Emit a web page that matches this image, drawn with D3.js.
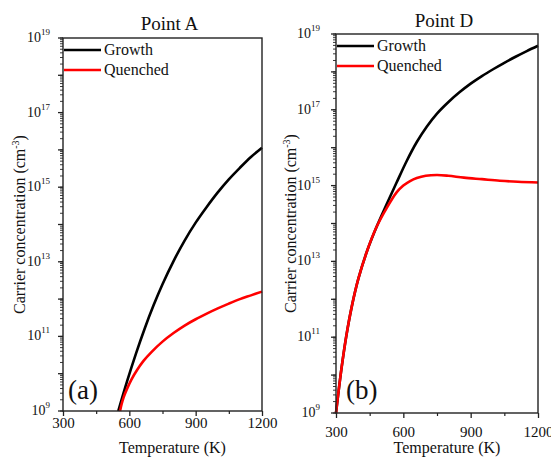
<!DOCTYPE html>
<html>
<head>
<meta charset="utf-8">
<script src="https://cdn.jsdelivr.net/npm/d3@7"></script>
<style>
  body { margin: 0; background: #fff; }
  svg text { font-family: "Liberation Serif", Tinos, "Times New Roman", Times, "DejaVu Serif", serif; }
</style>
</head>
<body>
<svg width="551" height="458"></svg>
<script>
// Point A curves: temperature (K) and log10 of carrier concentration (cm^-3)
const growthA_T = [550, 590, 630, 670, 710, 750, 800, 850, 900, 950, 1000, 1050, 1100, 1150, 1200];
const growthA_logN = [9.0, 9.80, 10.54, 11.22, 11.84, 12.40, 13.02, 13.57, 14.05, 14.47, 14.86, 15.21, 15.52, 15.81, 16.06];
const quenchA_T = [558, 565, 575, 590, 610, 635, 665, 700, 750, 800, 850, 900, 950, 1000, 1050, 1100, 1150, 1200];
const quenchA_logN = [9.0, 9.18, 9.38, 9.60, 9.85, 10.10, 10.35, 10.58, 10.86, 11.09, 11.29, 11.46, 11.61, 11.75, 11.88, 12.00, 12.10, 12.20];

// Point D curves
const growthD_T = [300, 310, 325, 345, 370, 400, 440, 480, 525, 570, 615, 660, 705, 750, 800, 850, 900, 950, 1000, 1050, 1100, 1150, 1200];
const growthD_logN = [9.0, 9.50, 10.20, 11.00, 11.80, 12.55, 13.30, 13.90, 14.50, 15.08, 15.65, 16.15, 16.56, 16.90, 17.20, 17.46, 17.69, 17.89, 18.07, 18.24, 18.40, 18.55, 18.69];
const quenchD_T = [300, 310, 325, 345, 370, 400, 440, 480, 525, 570, 600, 630, 660, 700, 750, 800, 870, 950, 1030, 1110, 1200];
const quenchD_logN = [9.0, 9.50, 10.20, 11.00, 11.80, 12.55, 13.30, 13.90, 14.40, 14.82, 15.00, 15.12, 15.20, 15.26, 15.28, 15.26, 15.21, 15.17, 15.13, 15.10, 15.08];

const xTicks = [300, 600, 900, 1200];
const xMinor = [450, 750, 1050];
const yExp = [9, 11, 13, 15, 17, 19];
const legendNames = ["Growth", "Quenched"];

const panels = [
  { title: "Point A", tag: "(a)", left: 63, right: 262, top: 38, bottom: 411, titleY: 30, labelGap: 13, ylabX: 25, tickPad: 1, tagX: 5, tagY: 12,
    series: [
      { T: growthA_T, L: growthA_logN, color: "#000" },
      { T: quenchA_T, L: quenchA_logN, color: "#f00" }
    ] },
  { title: "Point D", tag: "(b)", left: 336, right: 538, top: 34, bottom: 413, titleY: 27, labelGap: 16, ylabX: 296, tickPad: 8, tagX: 10, tagY: 14,
    series: [
      { T: growthD_T, L: growthD_logN, color: "#000" },
      { T: quenchD_T, L: quenchD_logN, color: "#f00" }
    ] }
];

const svg = d3.select("svg");

panels.forEach(p => {
  const x = d3.scaleLinear().domain([300, 1200]).range([p.left, p.right]);
  const y = d3.scaleLog().domain([1e9, 1e19]).range([p.bottom, p.top]);
  const g = svg.append("g");

  // curves
  const line = d3.line().x(d => x(d[0])).y(d => y(d[1])).curve(d3.curveCatmullRom.alpha(0.5));
  p.series.forEach(s => {
    g.append("path")
      .datum(s.T.map((t, i) => [t, Math.pow(10, s.L[i])]))
      .attr("fill", "none")
      .attr("stroke", s.color)
      .attr("stroke-width", 2.6)
      .attr("d", line);
  });

  // frame
  g.append("rect")
    .attr("x", p.left).attr("y", p.top)
    .attr("width", p.right - p.left).attr("height", p.bottom - p.top)
    .attr("fill", "none").attr("stroke", "#222").attr("stroke-width", 1.4);

  // x axis
  const xAxis = g.append("g").attr("transform", `translate(0,${p.bottom})`)
    .call(d3.axisBottom(x).tickValues(xTicks).tickSize(5).tickPadding(p.tickPad).tickFormat(d3.format("d")));
  xAxis.attr("font-family", null).attr("font-size", null);
  xAxis.select(".domain").remove();
  xAxis.selectAll("line").attr("stroke", "#222").attr("stroke-width", 1.3);
  xAxis.selectAll("text").attr("font-size", 15).attr("fill", "#111");
  g.append("g").attr("transform", `translate(0,${p.bottom})`)
    .call(d3.axisBottom(x).tickValues(xMinor).tickSize(3).tickFormat(""))
    .call(a => a.select(".domain").remove())
    .selectAll("line").attr("stroke", "#222").attr("stroke-width", 1.2);

  // y axis: minor then major ticks
  const yAx = g.append("g").attr("transform", `translate(${p.left},0)`);
  yAx.selectAll("line.minor").data(y.ticks(20)).join("line")
    .attr("x1", -3).attr("x2", 0)
    .attr("y1", d => y(d)).attr("y2", d => y(d))
    .attr("stroke", "#222").attr("stroke-width", 0.9);
  yAx.selectAll("line.major").data(y.ticks()).join("line")
    .attr("x1", -5).attr("x2", 0)
    .attr("y1", d => y(d)).attr("y2", d => y(d))
    .attr("stroke", "#222").attr("stroke-width", 1.3);
  yExp.forEach(e => {
    const t = yAx.append("text")
      .attr("x", -p.labelGap).attr("y", y(Math.pow(10, e)) + 4)
      .attr("text-anchor", "end").attr("font-size", 14).attr("fill", "#111");
    t.append("tspan").text("10");
    t.append("tspan").attr("dy", -7).attr("font-size", 9).text(e);
  });

  // titles
  g.append("text").attr("x", (p.left + p.right) / 2 + 7).attr("y", p.titleY)
    .attr("text-anchor", "middle").attr("font-size", 19).attr("fill", "#111").text(p.title);
  g.append("text").attr("x", (p.left + p.right) / 2 + 10).attr("y", 453)
    .attr("text-anchor", "middle").attr("font-size", 16).attr("fill", "#111").text("Temperature (K)");
  const yl = g.append("text")
    .attr("transform", `translate(${p.ylabX},${(p.top + p.bottom) / 2}) rotate(-90)`)
    .attr("text-anchor", "middle").attr("font-size", 16).attr("fill", "#111");
  yl.append("tspan").text("Carrier concentration (cm");
  yl.append("tspan").attr("dy", -6).attr("font-size", 10).text("-3");
  yl.append("tspan").attr("dy", 6).text(")");

  g.append("text").attr("x", p.left + p.tagX).attr("y", p.bottom - p.tagY)
    .attr("font-size", 27).attr("fill", "#111").text(p.tag);

  // legend
  p.series.forEach((s, i) => {
    const ly = p.top + 12 + i * 20;
    g.append("line")
      .attr("x1", p.left + 1).attr("x2", p.left + 38)
      .attr("y1", ly).attr("y2", ly)
      .attr("stroke", s.color).attr("stroke-width", 2.6);
    g.append("text").attr("x", p.left + 41).attr("y", ly + 5)
      .attr("font-size", 16).attr("fill", "#111").text(legendNames[i]);
  });
});
</script>
</body>
</html>
